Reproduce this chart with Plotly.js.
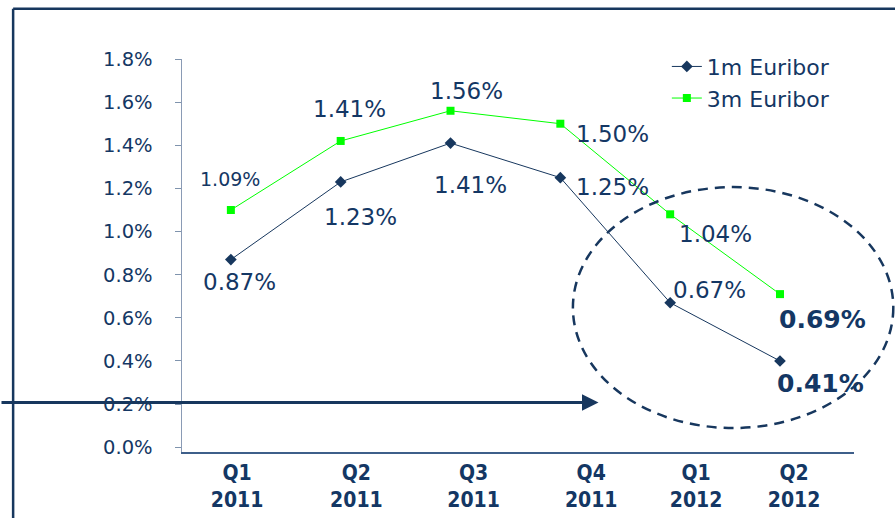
<!DOCTYPE html>
<html>
<head>
<meta charset="utf-8">
<script src="https://cdn.plot.ly/plotly-3.0.1.min.js"></script>
<style>html,body{margin:0;padding:0;background:#fff}#chart{width:895px;height:518px}</style>
</head>
<body>
<div id="chart"></div>
<script>
// ---- data ----
const categories = ['Q1 2011', 'Q2 2011', 'Q3 2011', 'Q4 2011', 'Q1 2012', 'Q2 2012'];
const tickLabels = ['Q1<br>2011', 'Q2<br>2011', 'Q3<br>2011', 'Q4<br>2011', 'Q1<br>2012', 'Q2<br>2012'];
const euribor1m = [0.87, 1.23, 1.41, 1.25, 0.67, 0.40];
const euribor3m = [1.10, 1.42, 1.56, 1.50, 1.08, 0.71];
const labels1m = ['0.87%', '1.23%', '1.41%', '1.25%', '0.67%', '0.41%'];
const labels3m = ['1.09%', '1.41%', '1.56%', '1.50%', '1.04%', '0.69%'];
const yTickValues = [0, 0.2, 0.4, 0.6, 0.8, 1.0, 1.2, 1.4, 1.6, 1.8];
const seriesNames = ['1m Euribor', '3m Euribor'];

// ---- layout helpers (positions / styles) ----
const xIdx = categories.map((c, i) => i);
const labelPos = [0.057, 1.143, 2.21, 3.281, 4.236, 5.128];
const tickPos = [0.633, 1.731, 2.803, 3.842, 4.867];
const off1m = [[9, 22], [20, 35], [20, 42], [52, 9], [39, -13], [41, 23]];
const off3m = [[-1, -31], [9, -32], [16, -20], [52, 10], [45, 20], [43, 25]];

const NAVY = '#17375e';
const TXT = '#143764';
const GREEN = '#00ff00';
const FONT = 'DejaVu Sans, Verdana, sans-serif';

const traces = [
  {
    x: xIdx, y: euribor1m, name: seriesNames[0], type: 'scatter', mode: 'lines+markers',
    line: {color: NAVY, width: 1},
    marker: {symbol: 'diamond', size: 9, color: NAVY},
    hoverinfo: 'skip'
  },
  {
    x: xIdx, y: euribor3m, name: seriesNames[1], type: 'scatter', mode: 'lines+markers',
    line: {color: GREEN, width: 1},
    marker: {symbol: 'square', size: 8, color: GREEN},
    hoverinfo: 'skip'
  }
];

const annotations = [];
function addLabels(vals, labels, offs) {
  vals.forEach((v, i) => {
    const last = i === vals.length - 1;
    let size = 23;
    if (labels === labels3m && i === 0) size = 19;
    if (last) size = 25;
    annotations.push({
      x: xIdx[i], y: v, xref: 'x', yref: 'y', showarrow: false,
      text: labels[i], xshift: offs[i][0], yshift: -offs[i][1],
      xanchor: 'center', yanchor: 'middle',
      font: {family: FONT, size: size, color: TXT, weight: last ? 'bold' : 'normal'}
    });
  });
}
addLabels(euribor1m, labels1m, off1m);
addLabels(euribor3m, labels3m, off3m);

// arrow
annotations.push({
  x: 0.6198, y: 0.1262, xref: 'paper', yref: 'paper',
  ax: -605, ay: 0, showarrow: true, arrowhead: 2, arrowsize: 1.1, arrowwidth: 3,
  arrowcolor: NAVY, text: ''
});

const shapes = [
  // frame: left and top lines
  {type: 'line', xref: 'paper', yref: 'paper', x0: -0.2513, x1: -0.2513, y0: 1.128, y1: -0.2, line: {color: NAVY, width: 2.5}},
  {type: 'line', xref: 'paper', yref: 'paper', x0: -0.2513, x1: 1.1, y0: 1.128, y1: 1.128, line: {color: NAVY, width: 2.5}},
  // dashed ellipse
  {type: 'circle', xref: 'paper', yref: 'paper', x0: 0.5817, x1: 1.0585, y0: 0.061, y1: 0.674,
   line: {color: NAVY, width: 2.5, dash: '10px,7px'}}
];

const layout = {
  width: 895, height: 518,
  margin: {l: 181.5, r: 41, t: 59.3, b: 65.7, pad: 0},
  paper_bgcolor: '#ffffff', plot_bgcolor: '#ffffff',
  showlegend: true,
  legend: {
    x: 0.7215, y: 1.034, xanchor: 'left', yanchor: 'top',
    bgcolor: 'rgba(0,0,0,0)', borderwidth: 0,
    font: {family: FONT, size: 22, color: TXT}, tracegroupgap: 0
  },
  xaxis: {
    type: 'linear', range: [-0.445, 5.674], fixedrange: true,
    tickmode: 'array', tickvals: labelPos, ticktext: tickLabels, ticks: '',
    showline: true, linecolor: '#3e5f8a', linewidth: 1.5,
    showgrid: false, zeroline: false,
    tickfont: {family: 'DejaVu Sans Condensed, DejaVu Sans, sans-serif', size: 21, color: TXT, weight: 'bold'},
    ticklabelstandoff: 1
  },
  xaxis2: {
    type: 'linear', range: [-0.445, 5.674], overlaying: 'x', anchor: 'y', side: 'bottom',
    tickmode: 'array', tickvals: tickPos, ticks: 'outside', ticklen: 3, tickwidth: 1,
    tickcolor: '#3e5f8a', showticklabels: false, showline: false, showgrid: false, zeroline: false
  },
  yaxis: {
    range: [-0.022, 1.8], fixedrange: true,
    tickmode: 'array', tickvals: yTickValues, ticktext: yTickValues.map(v => v.toFixed(1) + '%'),
    ticks: 'outside', ticklen: 6, tickwidth: 1, tickcolor: '#7f93ad',
    showline: true, linecolor: '#8a9bb5', linewidth: 1.5,
    showgrid: false, zeroline: false,
    tickfont: {family: FONT, size: 19.5, color: TXT},
    ticklabelstandoff: 18
  },
  annotations: annotations,
  shapes: shapes
};

Plotly.newPlot('chart', traces, layout, {staticPlot: true, displayModeBar: false});
</script>
</body>
</html>
